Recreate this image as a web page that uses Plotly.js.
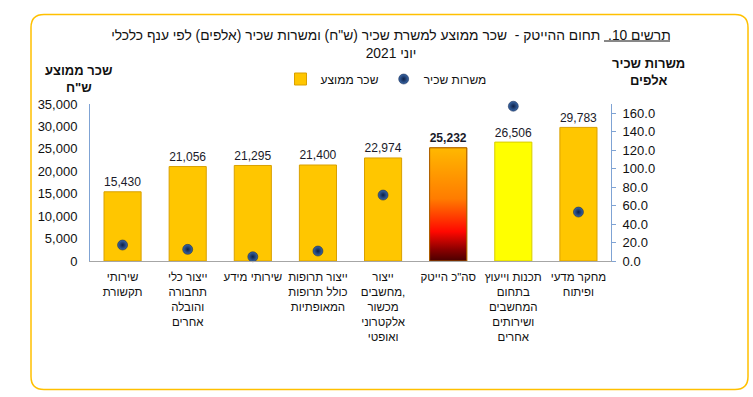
<!DOCTYPE html>
<html>
<head>
<meta charset="utf-8">
<script src="https://cdn.plot.ly/plotly-3.0.1.min.js"></script>
<style>html,body{margin:0;padding:0;background:#fff;}#chart{width:753px;height:397px;}</style>
</head>
<body>
<div id="chart"></div>
<script>
// ---- data ----
const categories = [
  'שירותי<br>תקשורת',
  'ייצור כלי<br>תחבורה<br>והובלה<br>אחרים',
  'שירותי מידע',
  'ייצור תרופות<br>כולל תרופות<br>המאופתיות',
  'ייצור<br>מחשבים,<br>מכשור<br>אלקטרוני<br>ואופטי',
  'סה"כ הייטק',
  'תכנות וייעוץ<br>בתחום<br>המחשבים<br>ושירותים<br>אחרים',
  'מחקר מדעי<br>ופיתוח'
];
const avgWage = [15430, 21056, 21295, 21400, 22974, 25232, 26506, 29783];
const jobs = [17.3, 12.6, 4.6, 10.8, 71.4, null, 167.6, 53.0];
const leftTicks = [0, 5000, 10000, 15000, 20000, 25000, 30000, 35000];
const rightTicks = [0, 20, 40, 60, 80, 100, 120, 140, 160];
const totalIndex = 5;
const softwareIndex = 6;
const wageName = 'שכר ממוצע';
const jobsName = 'משרות שכיר';
const titleText = 'תרשים 10.  תחום ההייטק -  שכר ממוצע למשרת שכיר (ש"ח) ומשרות שכיר (אלפים) לפי ענף כלכלי<br>יוני 2021';

// ---- styling ----
const W = 753, H = 397;
const M = {l: 90, r: 142, t: 104, b: 136};
const plotW = W - M.l - M.r, plotH = H - M.t - M.b;
const barWidth = 0.57;
const idx = categories.map((_, i) => i);
const fmt = v => v.toLocaleString('en-US');

const barColors = idx.map(i => i === softwareIndex ? '#FFFF00' : '#FFC600');
const barLines = idx.map(i => i === softwareIndex ? '#D8CC00' : '#D9A000');
const barText = avgWage.map((v, i) => i === totalIndex ? '<b>' + fmt(v) + '</b>' : fmt(v));

const font = 'Liberation Sans, Arial, sans-serif';

const bars = {
  type: 'bar', name: wageName, x: idx, y: avgWage, width: barWidth,
  marker: {color: barColors, line: {color: barLines, width: 1}},
  text: barText, textposition: 'outside', cliponaxis: false,
  textfont: {family: font, size: 14, color: '#1a1a2a'},
  hoverinfo: 'skip'
};

// gradient overlay for the total bar, built from its value
const tv = avgWage[totalIndex];
const gradBar = {
  type: 'scatter', mode: 'lines', showlegend: false, hoverinfo: 'skip',
  x: [totalIndex - barWidth/2, totalIndex + barWidth/2, totalIndex + barWidth/2, totalIndex - barWidth/2, totalIndex - barWidth/2],
  y: [0, 0, tv, tv, 0],
  fill: 'toself',
  line: {color: '#A85A00', width: 1},
  fillgradient: {type: 'vertical', colorscale: [
    [0, '#4a0000'], [0.1, '#8a0000'], [0.26, '#ff0800'], [0.55, '#ff7c00'], [1, '#ffb800']
  ]}
};

const dots = {
  type: 'scatter', mode: 'markers', name: jobsName, x: idx, y: jobs, yaxis: 'y2',
  cliponaxis: false,
  marker: {size: 10, color: '#3a68a8', gradient: {type: 'radial', color: '#0c1f47'},
           line: {color: '#0c1f47', width: 0.5}},
  hoverinfo: 'skip'
};

// rounded border in paper coordinates
const px = x => (x - M.l) / plotW;
const py = y => (M.t + plotH - y) / plotH;
function roundedRect(x0, y0, x1, y1, r) {
  const P = (x, y) => px(x) + ',' + py(y);
  return 'M' + P(x0 + r, y0) + ' L' + P(x1 - r, y0) + ' Q' + P(x1, y0) + ' ' + P(x1, y0 + r) +
         ' L' + P(x1, y1 - r) + ' Q' + P(x1, y1) + ' ' + P(x1 - r, y1) +
         ' L' + P(x0 + r, y1) + ' Q' + P(x0, y1) + ' ' + P(x0, y1 - r) +
         ' L' + P(x0, y0 + r) + ' Q' + P(x0, y0) + ' ' + P(x0 + r, y0) + ' Z';
}

const layout = {
  width: W, height: H, margin: M,
  paper_bgcolor: '#ffffff', plot_bgcolor: '#ffffff',
  font: {family: font, size: 13, color: '#111'},
  title: {
    text: titleText,
    x: 391 / W, xanchor: 'center', xref: 'container',
    y: 1 - 40 / H, yanchor: 'top', yref: 'container',
    font: {family: font, size: 13.8, color: '#111'}
  },
  showlegend: true,
  legend: {orientation: 'h', x: px(386), xanchor: 'center', y: py(79), yanchor: 'middle',
           font: {family: font, size: 12, color: '#111'}, bgcolor: 'rgba(0,0,0,0)', traceorder: 'normal',
           itemwidth: 30},
  bargap: 0.43,
  xaxis: {
    range: [-0.5, categories.length - 0.5], tickvals: idx, ticktext: categories, tickangle: 0,
    showgrid: false, zeroline: false, showline: true, linecolor: '#A6A6A6', linewidth: 1,
    ticks: '', ticklabelstandoff: 5, tickfont: {family: font, size: 11.5, color: '#111'}
  },
  yaxis: {
    range: [0, 35000], tickvals: leftTicks, tickformat: ',', showgrid: false, zeroline: false,
    showline: true, linecolor: '#7FA3D4', linewidth: 1, ticks: '', ticklabelstandoff: 9,
    tickfont: {family: font, size: 13, color: '#111'}
  },
  yaxis2: {
    overlaying: 'y', side: 'right', range: [0, 170], tickvals: rightTicks, tickformat: '.1f',
    showgrid: false, zeroline: false, showline: true, linecolor: '#7FA3D4', linewidth: 1,
    ticks: 'outside', ticklen: 4, tickcolor: '#7FA3D4', ticklabelstandoff: 4,
    tickfont: {family: font, size: 13, color: '#111'}
  },
  shapes: [
    {type: 'path', xref: 'paper', yref: 'paper', path: roundedRect(31, 14.5, 748, 389.5, 13),
     line: {color: '#FFC000', width: 1.5}, fillcolor: 'rgba(0,0,0,0)', layer: 'below'},
    // underline of the figure number in the title
    {type: 'line', xref: 'paper', yref: 'paper', x0: px(604), x1: px(670), y0: py(41), y1: py(41),
     line: {color: '#111', width: 1}}
  ],
  annotations: [
    {xref: 'paper', yref: 'paper', x: px(79), y: py(79), xanchor: 'center', yanchor: 'middle', showarrow: false,
     text: '<b>שכר ממוצע<br>ש"ח</b>', font: {family: font, size: 13, color: '#111'}},
    {xref: 'paper', yref: 'paper', x: px(648), y: py(72), xanchor: 'center', yanchor: 'middle', showarrow: false,
     text: '<b>משרות שכיר<br>אלפים</b>', font: {family: font, size: 13, color: '#111'}}
  ]
};

Plotly.newPlot('chart', [bars, gradBar, dots], layout, {displayModeBar: false, staticPlot: true});
</script>
</body>
</html>
